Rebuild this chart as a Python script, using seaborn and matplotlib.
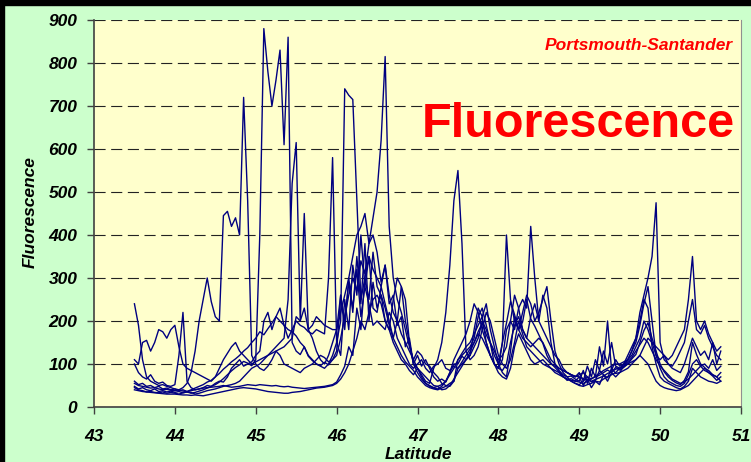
import numpy as np
import pandas as pd
import matplotlib.pyplot as plt
from matplotlib.patches import Rectangle
import seaborn as sns

# -----------------------------
# DATA (one list per ferry transect)
# -----------------------------
latitude = np.round(np.arange(43.5, 50.751, 0.05), 2)

s1 = [48, 42, 45, 40, 38, 42, 36, 38, 35, 37,
      34, 36, 33, 35, 32, 34, 37, 40, 44, 48,
      52, 58, 66, 75, 84, 92, 98, 106, 102, 96,
      110, 400, 880, 780, 700, 760, 830, 610, 860, 150,
      130, 122, 140, 118, 108, 100, 96, 104, 98, 110,
      120, 160, 210, 260, 300, 270, 340, 310, 380, 400,
      360, 290, 330, 240, 260, 190, 210, 140, 160, 100,
      120, 95, 110, 90, 70, 60, 65, 58, 80, 100,
      100, 118, 110, 128, 150, 175, 195, 168, 148, 120,
      100, 150, 195, 245, 215, 180, 198, 250, 205, 188,
      168, 148, 120, 102, 92, 82, 72, 62, 66, 60,
      58, 55, 60, 66, 70, 74, 80, 86, 80, 92,
      86, 92, 100, 112, 122, 150, 178, 196, 160, 130,
      100, 82, 70, 62, 56, 52, 62, 82, 150, 122,
      100, 92, 80, 72, 62, 70]

s2 = [240, 190, 110, 70, 60, 55, 50, 52, 48, 45,
      42, 40, 45, 55, 80, 130, 200, 250, 300, 245,
      210, 200, 445, 455, 420, 440, 400, 720, 480, 120,
      100, 90, 85, 95, 110, 130, 120, 100, 95, 90,
      85, 80, 90, 95, 100, 110, 120, 115, 105, 110,
      130, 260, 180, 300, 220, 350, 240, 380, 200, 290,
      230, 260, 200, 180, 250, 300, 280, 200, 150, 100,
      80, 65, 55, 48, 44, 42, 48, 60, 75, 90,
      110, 120, 130, 140, 160, 210, 230, 190, 150, 130,
      110, 120, 140, 200, 260, 230, 180, 160, 210, 240,
      200, 260, 230, 150, 100, 85, 75, 70, 60, 55,
      52, 60, 70, 58, 62, 85, 75, 68, 90, 78,
      80, 95, 110, 130, 150, 190, 240, 280, 200, 120,
      90, 70, 60, 55, 50, 48, 55, 75, 100, 110,
      95, 85, 80, 75, 70, 80]

s3 = [60, 52, 55, 48, 50, 45, 48, 42, 44, 40,
      42, 38, 40, 36, 40, 44, 48, 52, 58, 62,
      70, 78, 88, 96, 105, 112, 120, 130, 138, 150,
      160, 175, 168, 182, 195, 210, 200, 190, 180, 175,
      165, 150, 140, 120, 110, 100, 95, 90, 100, 120,
      150, 200, 740, 725, 715, 480, 250, 300, 350, 320,
      300, 280, 330, 260, 220, 200, 170, 150, 130, 110,
      130, 120, 100, 95, 80, 70, 55, 50, 48, 60,
      110, 125, 140, 150, 170, 190, 210, 240, 180, 140,
      100, 80, 70, 130, 210, 180, 160, 150, 140, 150,
      160, 150, 130, 110, 100, 90, 85, 80, 75, 70,
      75, 80, 70, 65, 72, 78, 85, 90, 95, 100,
      100, 105, 110, 120, 140, 160, 200, 180, 150, 120,
      110, 120, 100, 90, 85, 80, 100, 130, 160, 140,
      120, 130, 110, 150, 100, 130]

s4 = [45, 40, 38, 35, 36, 34, 33, 35, 32, 34,
      32, 30, 33, 35, 34, 30, 32, 35, 38, 40,
      42, 45, 48, 50, 52, 55, 60, 70, 80, 90,
      95, 100, 110, 120, 130, 140, 150, 160, 250, 520,
      615, 200, 450, 180, 160, 130, 110, 100, 120, 150,
      180, 220, 260, 300, 350, 400, 420, 450, 380, 440,
      500, 620, 815, 420, 300, 250, 220, 180, 140, 110,
      90, 75, 60, 55, 90, 110, 150, 220, 330, 480,
      550, 380, 130, 110, 120, 140, 180, 220, 200, 160,
      120, 100, 90, 110, 150, 200, 170, 140, 130, 120,
      110, 100, 95, 90, 85, 80, 70, 65, 60, 55,
      50, 48, 52, 55, 60, 58, 65, 70, 75, 80,
      90, 100, 120, 140, 160, 200, 250, 230, 140, 100,
      70, 60, 55, 50, 45, 42, 48, 60, 90, 80,
      70, 65, 60, 58, 55, 60]

s5 = [100, 80, 70, 65, 75, 60, 55, 58, 50, 48,
      52, 120, 220, 60, 45, 40, 42, 45, 50, 48,
      55, 60, 58, 70, 90, 100, 110, 95, 100, 105,
      120, 130, 200, 220, 180, 210, 230, 190, 160, 180,
      200, 190, 185, 175, 170, 180, 175, 170, 300, 580,
      150, 120, 250, 180, 330, 260, 400, 280, 350, 230,
      220, 280, 240, 200, 160, 200, 280, 250, 150, 100,
      90, 80, 70, 60, 50, 48, 52, 60, 80, 110,
      130, 150, 170, 200, 240, 220, 180, 150, 120, 100,
      90, 150, 400, 250, 200, 180, 220, 260, 240, 200,
      220, 250, 280, 200, 130, 100, 80, 70, 72, 65,
      60, 85, 55, 90, 70, 140, 95, 200, 85, 110,
      95, 100, 110, 130, 160, 220, 260, 300, 350, 475,
      150, 110, 100, 95, 110, 130, 150, 200, 250, 180,
      170, 190, 160, 140, 120, 110]

s6 = [110, 100, 150, 155, 130, 150, 180, 175, 160, 180,
      190, 140, 100, 90, 85, 80, 75, 70, 65, 60,
      70, 90, 110, 125, 140, 150, 130, 120, 110, 100,
      105, 110, 115, 120, 125, 130, 135, 140, 150, 160,
      210, 200, 230, 180, 190, 210, 200, 190, 185, 180,
      180, 260, 200, 290, 230, 320, 210, 280, 240, 190,
      200, 190, 180, 220, 200, 160, 140, 120, 100, 90,
      100, 110, 90, 80, 95, 100, 110, 90, 85, 95,
      90, 100, 110, 120, 180, 230, 210, 150, 120, 100,
      90, 110, 180, 200, 180, 230, 250, 230, 420, 300,
      200, 180, 160, 140, 120, 110, 90, 80, 75, 70,
      80, 60, 95, 70, 110, 85, 130, 100, 150, 95,
      90, 95, 100, 105, 110, 120, 140, 160, 150, 140,
      130, 120, 110, 120, 140, 160, 180, 250, 350, 200,
      180, 200, 170, 150, 130, 140]

s7 = [40, 38, 36, 35, 34, 33, 32, 31, 30, 30,
      30, 29, 28, 28, 27, 28, 27, 26, 28, 30,
      32, 34, 36, 38, 40, 42, 44, 45, 44, 43,
      42, 40, 38, 36, 35, 34, 33, 32, 32, 34,
      35, 36, 38, 40, 42, 44, 45, 46, 48, 50,
      55, 65, 80, 100, 130, 160, 200, 180, 220, 250,
      260, 240, 200, 180, 150, 130, 110, 100, 85, 75,
      90, 70, 55, 50, 45, 48, 40, 42, 50, 65,
      80, 95, 110, 120, 140, 160, 200, 180, 150, 100,
      80, 70, 65, 90, 140, 170, 150, 130, 110, 100,
      105, 110, 100, 90, 80, 75, 70, 65, 62, 60,
      70, 50, 65, 45, 60, 52, 75, 60, 80, 70,
      80, 85, 90, 100, 110, 120, 110, 100, 80, 60,
      50, 45, 42, 40, 38, 40, 45, 50, 60, 70,
      80, 90, 85, 75, 70, 60]

s8 = [55, 50, 48, 46, 44, 45, 42, 40, 41, 39,
      38, 40, 37, 36, 38, 40, 42, 44, 45, 46,
      47, 48, 50, 48, 46, 47, 48, 50, 52, 51,
      50, 52, 51, 50, 49, 50, 48, 47, 48, 46,
      45, 44, 43, 44, 45, 46, 47, 48, 50, 52,
      58, 75, 95, 140, 120, 230, 180, 300, 250, 360,
      280, 260, 230, 190, 160, 140, 120, 105, 95, 85,
      70, 60, 50, 45, 42, 40, 44, 48, 55, 60,
      90, 105, 120, 135, 150, 170, 160, 140, 120, 100,
      90, 85, 100, 150, 190, 210, 180, 160, 150, 140,
      130, 120, 110, 100, 95, 90, 85, 80, 75, 72,
      70, 66, 62, 60, 64, 68, 72, 78, 82, 88,
      90, 95, 105, 115, 130, 145, 160, 150, 130, 110,
      95, 85, 75, 65, 60, 55, 58, 65, 75, 85,
      95, 100, 90, 110, 85, 95]

series = {"t1": s1, "t2": s2, "t3": s3, "t4": s4,
          "t5": s5, "t6": s6, "t7": s7, "t8": s8}

frames = []
for name, vals in series.items():
    assert len(vals) == len(latitude), name
    frames.append(pd.DataFrame({"latitude": latitude,
                                "fluorescence": vals,
                                "transect": name}))
df = pd.concat(frames, ignore_index=True)

# -----------------------------
# PLOT
# -----------------------------
font = dict(family="Liberation Sans", weight="bold", style="italic", size=12.5)

fig = plt.figure(figsize=(7.51, 4.62), dpi=100, facecolor="#CCFFCC")
ax = fig.add_axes([94 / 751, 1 - 407 / 462, 647 / 751, 387 / 462])
ax.set_facecolor("#FFFFCC")

sns.lineplot(data=df, x="latitude", y="fluorescence", units="transect",
             estimator=None, sort=False, color="#000080", lw=1.0, ax=ax)

ax.set_xlim(43, 51)
ax.set_ylim(0, 900)
ax.set_xticks(range(43, 52))
ax.set_yticks(range(0, 901, 100))
ax.set_xticklabels([str(v) for v in range(43, 52)], fontdict=font)
ax.set_yticklabels([str(v) for v in range(0, 901, 100)], fontdict=font)
ax.tick_params(axis="x", direction="out", length=5, width=1, color="#404040", pad=10.5)
ax.tick_params(axis="y", direction="out", length=5, width=1, color="#404040", pad=7)

ax.yaxis.grid(True, color="#222222", linestyle=(0, (10, 5)), lw=0.8)
ax.xaxis.grid(False)
ax.set_axisbelow(True)

for side in ["left", "bottom"]:
    ax.spines[side].set_color("#404040")
    ax.spines[side].set_linewidth(1.2)
ax.spines["right"].set_color("#909090")
ax.spines["top"].set_visible(False)

ax.set_xlabel("Latitude", fontdict=font)
ax.set_ylabel("Fluorescence", fontdict=font)
ax.xaxis.set_label_coords(0.501, -0.103)
ax.yaxis.set_label_coords(-0.087, 0.504)

ax.text(0.9907, 0.6977, "Fluorescence", transform=ax.transAxes, ha="right",
        va="baseline", color="red", family="Liberation Sans", weight="bold", size=35)
ax.text(0.9876, 0.9225, "Portsmouth-Santander", transform=ax.transAxes, ha="right",
        va="baseline", color="red", family="Liberation Sans", weight="bold",
        style="italic", size=12.5)

# black frame left over from the screenshot (top and left edges)
fig.patches.append(Rectangle((0, 1 - 5 / 462), 1, 5 / 462, transform=fig.transFigure,
                             color="black", zorder=10))
fig.patches.append(Rectangle((0, 0), 4 / 751, 1, transform=fig.transFigure,
                             color="black", zorder=10))

fig.savefig("out.png", dpi=100, facecolor=fig.get_facecolor())
